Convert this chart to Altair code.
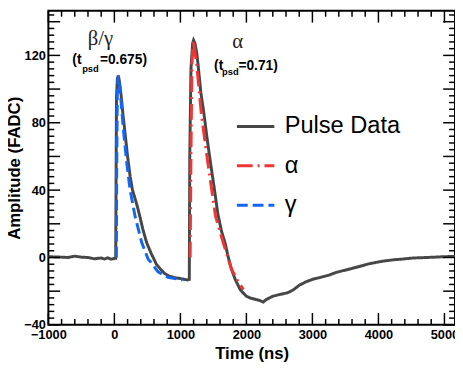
import altair as alt
import pandas as pd

# ---------------- data ----------------
pulse_t = [-1000, -900, -800, -700, -600, -500, -400, -300, -250, -200, -150, -100, -50, 0, 20,
           25, 32, 45, 60, 75, 100, 130, 164, 200, 239, 275, 313, 350, 388, 430, 487, 530, 562,
           600, 636, 700, 761, 830, 911, 1000, 1060, 1109, 1135,
           1142, 1160, 1185, 1200, 1222, 1249, 1269, 1310, 1358, 1400, 1457, 1510, 1567, 1620,
           1681, 1720, 1771, 1830, 1905, 1950, 2000, 2055, 2100, 2150, 2200, 2254, 2300, 2350,
           2400, 2453, 2502, 2560, 2620, 2700, 2752, 2800, 2850, 2900, 3000, 3100, 3249, 3350,
           3498, 3600, 3747, 3850, 3995, 4100, 4245, 4350, 4494, 4600, 4743, 4900, 5000, 5160]
pulse_a = [0.5, 0.3, 0.2, 0.0, 0.8, 0.2, 0.0, -0.8, -0.5, -0.3, -0.9, -0.2, -1.0, -0.6, -0.5,
           40, 95, 106, 108, 105, 97, 85, 73, 60, 48, 40, 35, 30, 24, 17, 9, 5, 2,
           -1, -4, -7, -9.5, -11, -12, -12.5, -13, -13.3, -13,
           60, 112, 127, 129, 127, 121, 114, 98, 85, 72, 56, 42, 26, 16,
           8, 1, -6.6, -13, -19, -21, -23, -24, -24.5, -25, -25.5, -26.5, -25, -24,
           -23, -22.5, -22, -21.5, -21, -19.5, -18, -16.5, -15.5, -14.5, -13, -12, -10.5, -9,
           -7.5, -6.5, -5, -3.8, -2.7, -2, -1.3, -1, -0.4, -0.2, 0, 0.3, 0.5, 0.6]

alpha_t = [1148, 1160, 1175, 1194, 1220, 1249, 1318, 1418, 1532, 1657, 1771, 1870, 1955]
alpha_a = [0, 60, 115, 129, 122, 114, 85, 55.6, 24.5, 7.8, -6.6, -14, -19]

gamma_t = [30, 35, 45, 60, 75, 100, 139, 189, 239, 313, 413, 512, 537, 661, 811, 1035]
gamma_a = [0, 50, 100, 108, 104, 93, 75, 55.6, 40, 24.5, 9, -1, -2, -8.5, -11.8, -13.4]

series_names = ["Pulse Data", "α", "γ"]
series_colors = ["#474747", "#f03535", "#1466f0"]
series_dash = [[1, 0], [16, 5, 2, 5], [11, 5]]

x_major = list(range(-1000, 5001, 1000))
x_minor = [v for v in range(-1000, 5161, 200) if v % 1000 != 0]
y_major = list(range(-40, 141, 20))
y_minor = [v for v in range(-40, 147, 4) if v % 20 != 0]

big_text = ["β/γ", "α"]
big_t = [-212, 1869]
big_a = [126.0, 124.6]

main_text = ["(t", "=0.675)", "(t", "=0.71)"]
main_t = [-637, -219, 1511, 1879]
main_a = [114.7, 114.7, 111.2, 111.2]

sub_text = ["psd", "psd"]
sub_t = [-488, 1630]
sub_a = [110.0, 108.3]

# ---------------- tables ----------------
rows = []
for name, ts, as_ in [("Pulse Data", pulse_t, pulse_a), ("α", alpha_t, alpha_a), ("γ", gamma_t, gamma_a)]:
    for i, (t, a) in enumerate(zip(ts, as_)):
        rows.append({"t": t, "amp": a, "series": name, "order": i})
df = pd.DataFrame(rows)
big_df = pd.DataFrame({"t": big_t, "amp": big_a, "label": big_text})
main_df = pd.DataFrame({"t": main_t, "amp": main_a, "label": main_text})
sub_df = pd.DataFrame({"t": sub_t, "amp": sub_a, "label": sub_text})

W, H = 413, 319
MAJ, MIN = 12, 6
xs = alt.Scale(domain=[-1000, 5160], nice=False, zero=False)
ys = alt.Scale(domain=[-40, 146.5], nice=False, zero=False)
FONT = "Liberation Sans"

legend = alt.Legend(title=None, orient="none", legendX=190, legendY=97)

lines = alt.Chart(df).mark_line(strokeWidth=3, strokeCap="butt").encode(
    x=alt.X("t:Q", scale=xs, axis=alt.Axis(
        orient="bottom", values=x_major, format="d", ticks=False, domain=False, grid=False,
        labelFont=FONT, labelFontWeight="bold", labelFontSize=13, labelColor="black",
        labelPadding=4, labelFlush=False, labelOverlap=False,
        title="Time (ns)", titleFont=FONT, titleFontSize=17, titleFontWeight="bold",
        titleColor="black", titlePadding=4)),
    y=alt.Y("amp:Q", scale=ys, axis=alt.Axis(
        orient="left", values=y_major, format="d", ticks=False, domain=False, grid=False,
        labelFont=FONT, labelFontWeight="bold", labelFontSize=13, labelColor="black",
        labelPadding=3, labelFlush=False, labelOverlap=False,
        title="Amplitude (FADC)", titleFont=FONT, titleFontSize=17, titleFontWeight="bold",
        titleColor="black", titlePadding=0)),
    color=alt.Color("series:N", scale=alt.Scale(domain=series_names, range=series_colors),
                    legend=legend),
    strokeDash=alt.StrokeDash("series:N", scale=alt.Scale(domain=series_names, range=series_dash),
                              legend=legend),
    order="order:Q",
)

# inward ROOT-style ticks on all four sides, placed through the shared scales
def x_ticks(values, size):
    d = pd.DataFrame({"t": values})
    base = alt.Chart(d).mark_rule(color="black", strokeWidth=1.5)
    bottom = base.encode(x=alt.X("t:Q", scale=xs), y=alt.value(H), y2=alt.value(H - size))
    top = base.encode(x=alt.X("t:Q", scale=xs), y=alt.value(0), y2=alt.value(size))
    return [bottom, top]


def y_ticks(values, size):
    d = pd.DataFrame({"amp": values})
    base = alt.Chart(d).mark_rule(color="black", strokeWidth=1.5)
    left = base.encode(y=alt.Y("amp:Q", scale=ys), x=alt.value(0), x2=alt.value(size))
    right = base.encode(y=alt.Y("amp:Q", scale=ys), x=alt.value(W), x2=alt.value(W - size))
    return [left, right]


tick_layers = x_ticks(x_major, MAJ) + x_ticks(x_minor, MIN) + y_ticks(y_major, MAJ) + y_ticks(y_minor, MIN)

big = alt.Chart(big_df).mark_text(font="Liberation Serif", fontSize=21, align="center",
                                  baseline="alphabetic", color="#222222").encode(
    x=alt.X("t:Q", scale=xs), y=alt.Y("amp:Q", scale=ys), text="label:N")
main = alt.Chart(main_df).mark_text(font=FONT, fontSize=14, fontWeight="bold", align="left",
                                   baseline="alphabetic", color="black").encode(
    x=alt.X("t:Q", scale=xs), y=alt.Y("amp:Q", scale=ys), text="label:N")
sub = alt.Chart(sub_df).mark_text(font=FONT, fontSize=9.5, fontWeight="bold", align="left",
                                 baseline="alphabetic", color="black").encode(
    x=alt.X("t:Q", scale=xs), y=alt.Y("amp:Q", scale=ys), text="label:N")

chart = alt.layer(lines, *tick_layers, big, main, sub).properties(
    width=W, height=H,
    autosize=alt.AutoSizeParams(type="none"),
    padding={"left": 41, "top": 0, "right": 0, "bottom": 40},
).configure_view(
    stroke="black", strokeWidth=2
).configure_axis(
    labelOverlap=False
).configure_legend(
    symbolType="stroke", symbolSize=1444, symbolStrokeWidth=3, labelFont=FONT,
    labelFontSize=24, labelColor="black", labelOffset=9, rowPadding=7, padding=0,
    labelLimit=300,
)

chart.save("out.html", embed_options={"renderer": "svg", "actions": False})
